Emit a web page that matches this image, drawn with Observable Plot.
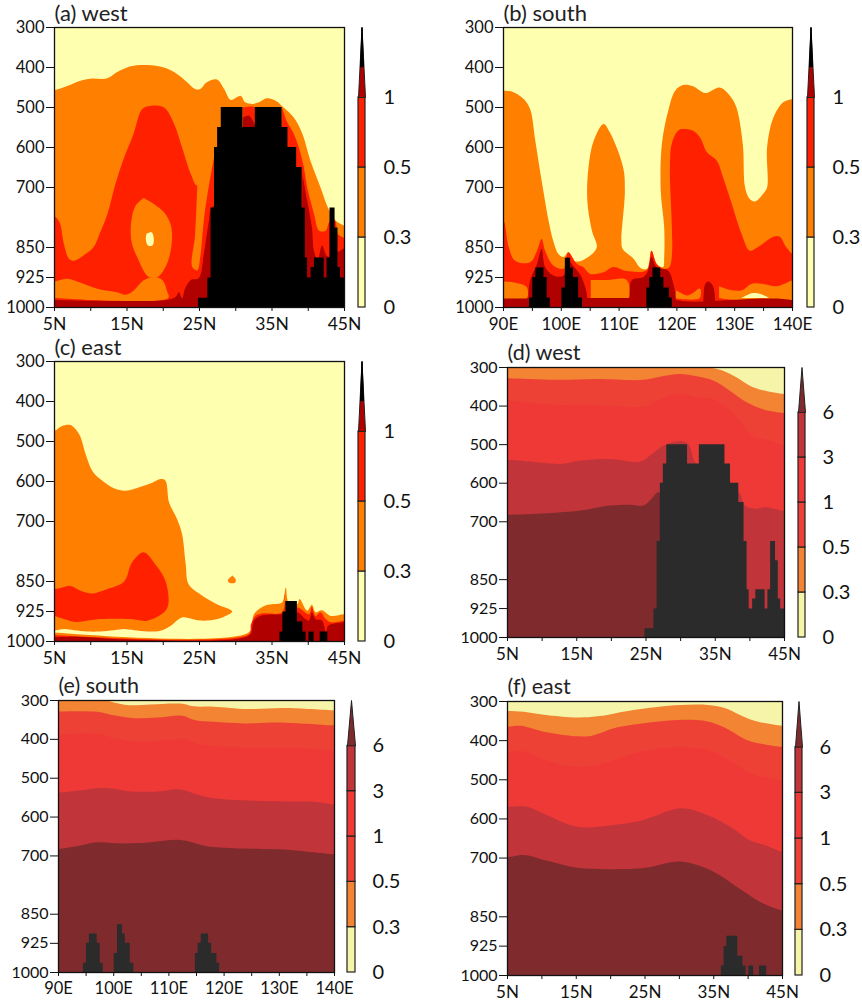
<!DOCTYPE html>
<html><head><meta charset="utf-8">
<style>html,body{margin:0;padding:0;background:#fff}#page{position:relative;width:862px;height:1001px;overflow:hidden}#page svg{position:absolute;overflow:visible}</style>
<script src="https://cdn.jsdelivr.net/npm/d3@7"></script>
<script src="https://cdn.jsdelivr.net/npm/@observablehq/plot@0.6"></script>
</head><body><div id="page"></div>
<script>
const pressureTicks=[300,400,500,600,700,850,925,1000];
const latTicks=[5,10,15,20,25,30,35,40,45];
const latLabels=[5,15,25,35,45];
const lonTicks=[90,95,100,105,110,115,120,125,130,135,140];
const lonLabels=[90,100,110,120,130,140];
const smallLabels=["0","0.3","0.5","1"];
const largeLabels=["0","0.3","0.5","1","3","6"];
const warm={yellow:"#ffffb0",orange:"#ff8000",red:"#ff2000",dark:"#b00000",black:"#000000"};
const soft={yellow:"#f6f4a8",c03:"#f28433",c05:"#ee4136",c1:"#ef3937",c3:"#c1353a",c6:"#7f2b2e",black:"#2b2b2b"};

const terrainWest=[[24.86,977],[26.15,926],[26.6,751],[27.07,600],[27.5,550],[28,500],[31,550],[32.7,500],[36.4,550],[37.2,600],[38.4,650],[39.16,751],[39.6,876],[39.9,926],[40.4,900],[40.86,876],[42.2,926],[42.6,876],[43,751],[43.7,801],[44.1,900],[44.45,926],[45,926]];
const terrainSouth=[[94.5,976],[95.07,925],[95.6,901],[97,925],[97.55,976],[98.1,1000],[100.1,951],[100.7,877],[101.6,901],[102.1,925],[103,976],[103.65,1000],[114.8,951],[115.3,925],[115.85,901],[117.2,925],[117.75,951],[118.7,976],[119.2,1000]];
const terrainEast=[[36.1,976],[36.5,926],[36.9,900],[38.5,951],[39.25,976],[39.7,1000],[40.1,976],[40.8,1000],[41.65,976],[42.7,1000]];

// (a) west
const aOrange=[[4.5,456],[5,456],[6.75,446],[8.6,433],[10,428],[12.3,427],[13.6,412],[15.5,397],[17.8,394],[20.1,400],[21.9,416],[23.3,437],[24.4,454],[25.1,454],[26,437],[27.4,430],[28.4,454],[29.3,481],[30.7,471],[31.3,487],[32.3,491],[33.2,487],[34.3,477],[35.5,483],[36.6,500],[38,525],[39.2,566],[40.3,633],[41.7,700],[42.8,754],[43.8,783],[44.9,795],[45.5,800],[45.5,1010],[4.5,1010]];
const aRed=[[4.5,772],[5,772],[5.7,787],[6.3,841],[7,878],[7.7,883],[9,870],[10.4,849],[11.3,812],[12.3,766],[13.4,691],[14.6,625],[15.9,566],[17.1,504],[18.2,496],[20.1,500],[21.5,541],[22.6,600],[23.8,666],[24.7,695],[27,625],[28,700],[28,1010],[4.5,1010]];
const aStrip=[[24.7,695],[24.4,816],[24,899],[24.7,907],[25.1,874],[25.7,766],[27,625],[28,540],[25,540]];
const aLowOrange=[[4.5,935],[5,935],[6.75,928],[8.1,935],[10.9,953],[13.6,962],[14.8,968],[15.9,958],[17.3,932],[18.7,924],[19.9,932],[20.5,958],[20.7,976],[4.5,976]];
const aIsland=[[17.3,726],[18.7,741],[20.1,762],[21,791],[21.2,833],[20.5,891],[19.2,924],[18,924],[16.4,874],[15.6,833],[15.6,783],[16.2,745],[17.3,726]];
const aSpeck=[[17.7,815],[18.4,812],[18.7,830],[18.5,845],[17.9,845],[17.6,830],[17.7,815]];
const aDarkLeft=[[4.5,981],[20.5,981],[21.7,974],[22.15,962],[22.6,977],[23,953],[23.8,931],[24.9,926],[25.6,866],[26.3,783],[26.7,749],[28,749],[28,1010],[4.5,1010]];
const aGapRed=[[31,500],[32.7,500],[32.7,550],[31,550]];
const aGapDark=[[31,525],[31.8,520],[32.4,535],[32.7,550],[31,550]];
const aRedRight=[[36.4,500],[37.1,537],[37.9,562],[38.7,600],[39.4,650],[39.85,700],[40.8,766],[41.5,808],[42.4,808],[43,783],[43.7,783],[44.1,816],[45.5,835],[45.5,1010],[36,1010]];
const aDarkRight=[[39.2,666],[39.85,733],[40.5,799],[40.8,860],[41.3,880],[41.9,845],[42.5,870],[43,876],[43,1010],[39,1010]];
const aDarkEdge=[[44,860],[44.2,860],[45.5,850],[45.5,1010],[44,1010]];

// (b) south
const bOrange=[[89.5,458],[90,458],[91.4,460],[93.5,479],[94.6,504],[95.5,583],[96.6,683],[97.8,783],[98.6,833],[99.5,866],[100.4,874],[101.2,862],[102.1,883],[103.5,883],[106.1,851],[105.3,808],[104.5,733],[104.7,650],[105.6,583],[107.3,541],[108.4,562],[110.7,650],[111,708],[110.4,833],[110.6,853],[112.5,878],[113.6,900],[114.8,904],[115.6,858],[116.5,891],[117.6,899],[117.8,874],[117.8,799],[117.2,708],[117.4,591],[118.5,508],[119.7,458],[121.1,444],[122.8,447],[124.9,464],[127.4,450],[129.2,471],[130.3,500],[131.4,591],[131.8,700],[132.6,729],[133.5,735],[134.9,716],[135.6,700],[135.6,600],[136.7,525],[138.4,487],[140,479],[140.5,479],[140.5,1010],[89.5,1010]];
const bRed=[[89.5,783],[90,783],[90.9,849],[92,883],[94.6,887],[95.8,858],[96.6,829],[97.2,858],[98.6,895],[100.4,903],[101.2,862],[102.7,891],[103.8,899],[105,916],[107.3,912],[109,899],[111.3,909],[114.8,906],[115.6,858],[116.5,891],[117.6,903],[118.7,899],[118.8,650],[119.1,591],[120.2,558],[121.1,554],[122.8,558],[124,575],[125.2,612],[126.9,633],[128,675],[129.5,741],[131.2,816],[132.6,858],[134,849],[136.7,823],[137.8,823],[138.9,849],[140,866],[140.5,866],[140.5,1010],[89.5,1010]];
const bBox1=[[89.5,935],[90,935],[92,938],[94,949],[94,977],[89.5,977]];
const bBox2=[[105.1,931],[108,931],[111.3,931],[111.6,977],[105.1,977]];
const bBox3=[[119.9,957],[121.9,970],[124,953],[123.9,977],[119.7,977]];
const bBox4=[[127.3,947],[129.2,956],[131.2,957],[132.9,941],[134.9,941],[137.2,947],[140,932],[140.5,932],[140.5,977],[127.3,977]];
const bLens=[[131.2,976],[132.3,968],[133.2,964],[134.6,967],[135.9,976]];
const bBand=[[89.5,978],[118,978],[122,985],[140.5,986],[140.5,1010],[89.5,1010]];
const bHumpA=[[94.3,1000],[94.3,977],[94.6,932],[95.8,891],[96.6,853],[97.2,899],[98.6,920],[100.4,920],[101,874],[101.8,891],[102.7,907],[103.5,924],[104.4,966],[104.5,1000]];
const bHumpB=[[111.8,1000],[111.8,977],[112.2,932],[114.2,924],[115,908],[115.6,874],[116.5,899],[118.5,908],[119.4,941],[119.8,977],[119.8,1000]];
const bHumpC=[[124.6,1000],[124.6,977],[124.9,941],[125.4,935],[126.2,945],[126.6,977],[126.6,1000]];

// (c) east
const cOrange=[[4.5,473],[5,473],[6.06,461],[7.2,459],[8.4,482],[9.3,532],[10.2,573],[11.3,594],[13.2,617],[14.8,623],[16.9,613],[18.5,603],[19.6,594],[20.3,598],[20.8,652],[21.9,694],[22.6,732],[23.1,807],[23.5,857],[25.1,882],[27.4,907],[29.5,925],[28.4,938],[26.5,947],[24.7,947],[22.6,940],[21,961],[19.6,973],[17.8,975],[16,972],[14.6,969],[13.2,972],[11.3,975],[9.5,975],[7.7,972],[6.3,969],[5,973],[4.5,973]];
const cRedIsland=[[4.5,869],[5,869],[6.06,865],[7.2,861],[8.6,873],[10.2,880],[12.3,869],[14.6,850],[15.7,802],[17.3,777],[18.9,807],[20.3,848],[20.7,907],[20.1,927],[17.8,948],[15.5,944],[11.3,944],[7.9,951],[6.3,944],[5,936],[4.5,936]];
const cBlob=[[29.55,835],[30,845],[29.9,853],[29.1,853],[28.9,847],[29.55,835]];
const cBandOrange=[[4.5,977],[31.8,977],[32.5,932],[33.9,911],[35,907],[36.4,902],[36.9,865],[37.3,902],[38.5,907],[38.8,894],[39.85,923],[40.5,908],[41,927],[41.9,922],[43.1,936],[44.9,932],[45.5,932],[45.5,1010],[4.5,1010]];
const cBandRed=[[4.5,983],[31.8,982],[32.1,957],[32.7,936],[33.6,930],[36.4,927],[36.7,882],[37,927],[38.5,915],[40.1,932],[40.5,913],[41,936],[41.7,927],[42.4,944],[43.1,952],[44.9,948],[45.5,948],[45.5,1010],[4.5,1010]];
const cBandDark=[[4.5,990],[8,988],[15,995],[30,994],[32,982],[32.5,948],[33.4,936],[36.4,932],[38.5,927],[39.6,944],[40.1,948],[40.5,927],[41,944],[41.9,948],[42.5,982],[42.7,961],[44.9,952],[45.5,950],[45.5,1010],[4.5,1010]];

// (d) west
const d03=[[4,290],[34,300],[36.2,309],[38.1,326],[40,347],[41.9,359],[45,369]];
const d05=[[5,328],[8.3,330],[12.1,332],[17.9,330],[24.6,332],[27,324],[29.9,317],[32.3,323],[34.7,334],[37.1,360],[39.6,391],[42,409],[45,418]];
const d1=[[5,384],[8.3,393],[12.1,397],[17.9,397],[24.6,401],[26.6,386],[29.9,369],[32.3,378],[35.2,386],[38.1,429],[40.3,477],[42,485],[45,501]];
const d3=[[5,539],[8.3,544],[12.6,550],[15.5,541],[19.8,537],[24.2,544],[25.6,528],[27.5,503],[29.7,491],[31.1,498],[32.3,550],[36.2,563],[37.4,602],[38.6,628],[39.3,658],[40.8,666],[42.4,662],[43.9,668],[45,672]];
const d6=[[4.5,682],[5,682],[10.7,678],[15.5,671],[19.8,658],[22.7,656],[24.6,658],[25.8,640],[26.8,623],[27.5,650],[27.5,1010],[4.5,1010]];

// (e) south
const e03=[[88,292],[98,297],[100,305],[102.7,312],[106.7,310],[112.1,308],[114.5,315],[118.1,316],[124.2,322],[130.8,319],[140,325]];
const e05=[[90,328],[97,329],[100,338],[103.3,345],[107.9,344],[112.4,339],[114.8,351],[118.1,355],[123.6,359],[130.8,357],[140,364]];
const e1=[[90,387],[96.7,385],[100,396],[103.6,405],[107.9,404],[112.4,400],[115.7,413],[123.6,421],[131.4,421],[140,428]];
const e3=[[90,537],[94,531],[97.6,525],[100,527],[103,534],[107.9,534],[112.1,529],[115.1,542],[117.5,550],[123.6,557],[131.4,560],[136.9,561],[140,568]];
const e6=[[90,682],[94,673],[97,665],[101.8,668],[106.7,665],[112.1,659],[116.9,675],[121.8,680],[131.4,684],[135.7,690],[140,696]];

// (f) east
const f03=[[5,324],[7.4,326],[10.3,334],[15.2,341],[18.1,338],[22.5,324],[26.8,314],[30.2,309],[34.1,309],[36.8,318],[38.5,332],[40.9,349],[45,362]];
const f05=[[5,364],[6.9,362],[10.3,377],[15.2,389],[17.1,388],[21,366],[25.4,354],[30,347],[34.1,351],[36.5,366],[39.9,399],[42.3,409],[45,416]];
const f1=[[5,428],[7.4,428],[10.8,451],[15.2,467],[18.6,460],[23.9,430],[29.7,416],[34.1,424],[37,447],[40.4,483],[45,502]];
const f3=[[5,569],[7.9,569],[10.3,587],[15.2,620],[21.5,613],[24.9,602],[30.2,573],[33.6,587],[37.5,621],[40.4,656],[42.3,666],[45,684]];
const f6=[[5,698],[7.4,692],[10.8,707],[15.2,725],[22,728],[25.4,724],[30.2,709],[35.1,736],[38.5,775],[42.3,817],[45,834]];

const down=(pts)=>{const a=pts[0],b=pts[pts.length-1];return [[a[0]-.6,a[1]],...pts,[b[0]+.6,b[1]],[b[0]+.6,1010],[a[0]-.6,1010]];};
const W=warm,S=soft;
const panels=[
 {title:"(a) west",box:[54,344,27,307],bar:[358,365],labelDx:18,domain:[5,45],ticks:latTicks,major:latLabels,suffix:"N",terrain:terrainWest,pal:W,tick:16.5,xfs:17.5,tfs:20,head:22,
  layers:[[aOrange,W.orange],[aRed,W.red],[aStrip,W.orange],[aLowOrange,W.orange],[aIsland,W.orange],[aSpeck,W.yellow],[aDarkLeft,W.dark],[aGapRed,W.red],[aGapDark,W.dark],[aRedRight,W.red],[aDarkRight,W.dark],[aDarkEdge,W.dark]]},
 {title:"(b) south",box:[503,792,27,307],bar:[807,814],labelDx:18,domain:[90,140],ticks:lonTicks,major:lonLabels,suffix:"E",terrain:terrainSouth,pal:W,tick:16.5,xfs:17,tfs:20,head:22,
  layers:[[bOrange,W.orange],[bRed,W.red],[bBox1,W.orange],[bBox2,W.orange],[bBox3,W.orange],[bBox4,W.orange],[bLens,W.yellow],[bBand,W.dark],[bHumpA,W.dark],[bHumpB,W.dark],[bHumpC,W.dark]]},
 {title:"(c) east",box:[54,344,361,641],bar:[358,365],labelDx:18,domain:[5,45],ticks:latTicks,major:latLabels,suffix:"N",terrain:terrainEast,pal:W,tick:16.5,xfs:17.5,tfs:20,head:22,
  layers:[[cOrange,W.orange],[cRedIsland,W.red],[cBlob,W.orange],[cBandOrange,W.orange],[cBandRed,W.red],[cBandDark,W.dark]]},
 {title:"(d) west",box:[507,784,367,637],bar:[798,805],labelDx:17,domain:[5,45],ticks:latTicks,major:latLabels,suffix:"N",terrain:terrainWest,pal:S,tick:16,xfs:17,tfs:20,head:21.5,
  layers:[[down(d03),S.c03],[down(d05),S.c05],[down(d1),S.c1],[down(d3),S.c3],[d6,S.c6]]},
 {title:"(e) south",box:[58,334,700,972],bar:[347,355],labelDx:17,domain:[90,140],ticks:lonTicks,major:lonLabels,suffix:"E",terrain:terrainSouth,pal:S,tick:16,xfs:16.5,tfs:20,head:21.5,
  layers:[[down(e03),S.c03],[down(e05),S.c05],[down(e1),S.c1],[down(e3),S.c3],[down(e6),S.c6]]},
 {title:"(f) east",box:[507,782,701,975],bar:[795,802],labelDx:17,domain:[5,45],ticks:latTicks,major:latLabels,suffix:"N",terrain:terrainEast,pal:S,tick:16,xfs:17,tfs:20,head:21.5,
  layers:[[down(f03),S.c03],[down(f05),S.c05],[down(f1),S.c1],[down(f3),S.c3],[down(f6),S.c6]]}
];
const FONT="Lato, sans-serif";
const page=document.getElementById("page");
const place=(svg,left,top)=>{svg.style.left=left+"px";svg.style.top=top+"px";page.appendChild(svg);};
const fillShape=(pts,color)=>Plot.line(pts,{x:d=>d[0],y:d=>d[1],fill:color,stroke:"none",curve:"catmull-rom",clip:true});

for(const p of panels){
  const [x0,x1,y0,y1]=p.box, mL=56,mR=30,mT=27,mB=26;
  const suffix=p.suffix;
  const svg=Plot.plot({
    width:x1-x0+mL+mR,height:y1-y0+mT+mB,marginLeft:mL,marginRight:mR,marginTop:mT,marginBottom:mB,
    style:{background:"transparent",fontFamily:FONT,color:"#111"},
    x:{domain:p.domain,label:null},
    y:{domain:[300,1000],reverse:true,label:null},
    marks:[
      Plot.frame({fill:p.pal.yellow,stroke:"none"}),
      ...p.layers.map(([pts,c])=>fillShape(pts,c)),
      Plot.areaY(p.terrain,{x:d=>d[0],y1:d=>d[1],y2:()=>1000,curve:"step-after",fill:p.pal.black,clip:true}),
      Plot.frame({stroke:"#111",strokeWidth:1.3}),
      Plot.axisY({ticks:pressureTicks,tickSize:8,tickPadding:2,fontSize:p.tick,tickFormat:d=>String(d),label:null}),
      Plot.axisX({ticks:p.ticks,tickSize:4,text:null,label:null}),
      Plot.axisX({ticks:p.major,tickSize:0,tickPadding:10,fontSize:p.xfs,tickFormat:d=>d+suffix,label:null}),
      Plot.text([p.title],{frameAnchor:"top-left",dy:-14,fontSize:p.head,textAnchor:"start",lineAnchor:"middle",fill:"#222"})
    ]
  });
  place(svg,x0-mL,y0-mT);

  const labels=p.pal===W?smallLabels:largeLabels;
  const n=labels.length;
  const tipFill=p.pal===W?p.pal.dark:p.pal.c6;
  const boxFills=p.pal===W?[W.yellow,W.orange,W.red]:[S.yellow,S.c03,S.c05,S.c1,S.c3];
  const segs=boxFills.map((c,i)=>({i,c}));
  const tip=[[0,n-1],[.5,n],[1,n-1],[0,n-1]];
  const tipTop=[[.28,n-.56],[.5,n],[.72,n-.56],[.28,n-.56]];
  const [bx0,bx1]=p.bar;
  const bar=Plot.plot({
    width:bx1-bx0+60,height:y1-y0+20,marginLeft:0,marginRight:60,marginTop:10,marginBottom:10,
    style:{background:"transparent",fontFamily:FONT,color:"#111"},
    x:{domain:[0,1],label:null,axis:null},
    y:{domain:[0,n],label:null},
    marks:[
      Plot.rect(segs,{x1:()=>0,x2:()=>1,y1:d=>d.i,y2:d=>d.i+1,fill:d=>d.c,stroke:"#222",strokeWidth:1.2}),
      Plot.line(tip,{x:d=>d[0],y:d=>d[1],fill:tipFill,stroke:"#222",strokeWidth:1}),
      ...(p.pal===W?[Plot.line(tipTop,{x:d=>d[0],y:d=>d[1],fill:W.black,stroke:"#000",strokeWidth:1})]:[]),
      Plot.axisY({anchor:"right",ticks:labels.map((_,i)=>i),tickSize:0,tickPadding:p.labelDx,fontSize:p.tfs,tickFormat:i=>labels[i],label:null})
    ]
  });
  place(bar,bx0,y0-10);
}
</script></body></html>
